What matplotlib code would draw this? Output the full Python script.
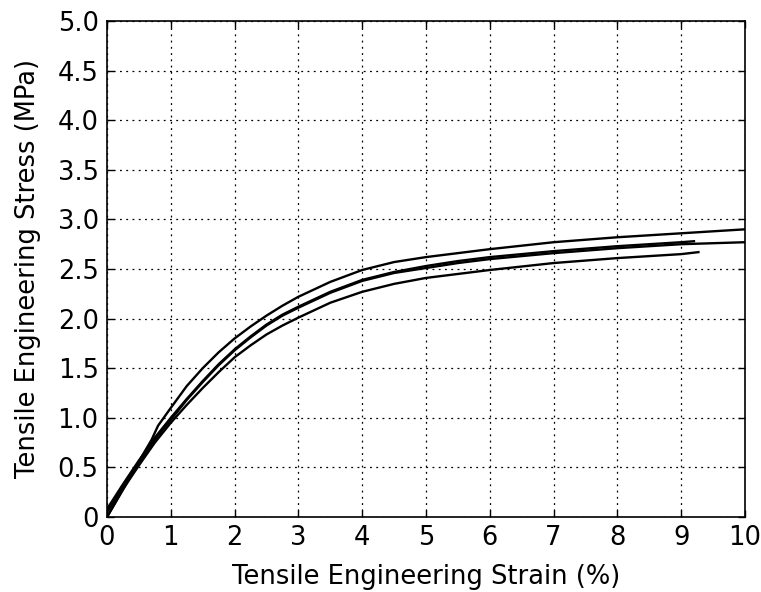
import numpy as np
import matplotlib
matplotlib.use("Agg")
import matplotlib.pyplot as plt

# strain (%) / stress (MPa) for the four specimens
strain_a = [0, 0.2, 0.4, 0.6, 0.7, 0.8, 1.0, 1.25, 1.5, 1.75, 2.0, 2.25, 2.5, 2.75, 3.0, 3.5, 4.0, 4.5, 5.0, 5.5, 6.0, 7.0, 8.0, 9.0, 10.0]
stress_a = [0.0, 0.22, 0.44, 0.67, 0.78, 0.92, 1.10, 1.32, 1.50, 1.66, 1.80, 1.92, 2.03, 2.13, 2.22, 2.37, 2.49, 2.57, 2.62, 2.66, 2.70, 2.77, 2.82, 2.86, 2.90]

strain_b = [0, 0.25, 0.5, 0.75, 1.0, 1.25, 1.5, 1.75, 2.0, 2.25, 2.5, 2.75, 3.0, 3.5, 4.0, 4.5, 5.0, 5.5, 6.0, 7.0, 8.0, 9.0, 10.0]
stress_b = [0.05, 0.30, 0.55, 0.78, 0.98, 1.18, 1.36, 1.53, 1.68, 1.81, 1.93, 2.03, 2.11, 2.26, 2.38, 2.46, 2.51, 2.56, 2.60, 2.66, 2.71, 2.75, 2.77]

strain_c = [0, 0.25, 0.5, 0.75, 1.0, 1.25, 1.5, 1.75, 2.0, 2.25, 2.5, 2.75, 3.0, 3.5, 4.0, 4.5, 5.0, 5.5, 6.0, 7.0, 8.0, 9.0, 9.2]
stress_c = [0.08, 0.33, 0.57, 0.80, 1.00, 1.19, 1.37, 1.54, 1.69, 1.82, 1.94, 2.04, 2.12, 2.27, 2.39, 2.47, 2.53, 2.58, 2.62, 2.68, 2.73, 2.77, 2.78]

strain_d = [0, 0.25, 0.5, 0.75, 1.0, 1.25, 1.5, 1.75, 2.0, 2.25, 2.5, 2.75, 3.0, 3.5, 4.0, 4.5, 5.0, 5.5, 6.0, 7.0, 8.0, 9.0, 9.27]
stress_d = [0.0, 0.28, 0.52, 0.75, 0.95, 1.13, 1.30, 1.46, 1.61, 1.73, 1.84, 1.93, 2.01, 2.16, 2.27, 2.35, 2.41, 2.45, 2.49, 2.56, 2.61, 2.65, 2.67]

x_ticks = np.arange(0, 11, 1)
y_ticks = np.arange(0, 5.01, 0.5)
y_ticklabels = ['0'] + [f'{v:.1f}' for v in y_ticks[1:]]

plt.rcParams['font.family'] = ['DejaVu Sans']

fig = plt.figure(figsize=(7.61, 5.92), dpi=100)
ax = fig.add_axes([107 / 761, 1 - 517 / 592, 638 / 761, 496 / 592])

for sx, sy in [(strain_a, stress_a), (strain_b, stress_b), (strain_c, stress_c), (strain_d, stress_d)]:
    ax.plot(sx, sy, color='black', lw=1.7, zorder=3, solid_joinstyle='round')

ax.set_xlim(0, 10)
ax.set_ylim(0, 5)
ax.set_xticks(x_ticks)
ax.set_yticks(y_ticks)
ax.set_xticklabels([f'{v:d}' for v in x_ticks])
ax.set_yticklabels(y_ticklabels)
ax.grid(True, color='black', linestyle=(0, (1.5, 3.5)), linewidth=0.9)
ax.tick_params(direction='in', length=5, width=1, top=True, right=True,
               labelsize=18.5, pad=6)
for sp in ax.spines.values():
    sp.set_linewidth(1.2)

ax.set_xlabel('Tensile Engineering Strain (%)', fontsize=18.5, labelpad=9)
ax.set_ylabel('Tensile Engineering Stress (MPa)', fontsize=18.5, labelpad=12)

fig.savefig('out.png', dpi=100)
